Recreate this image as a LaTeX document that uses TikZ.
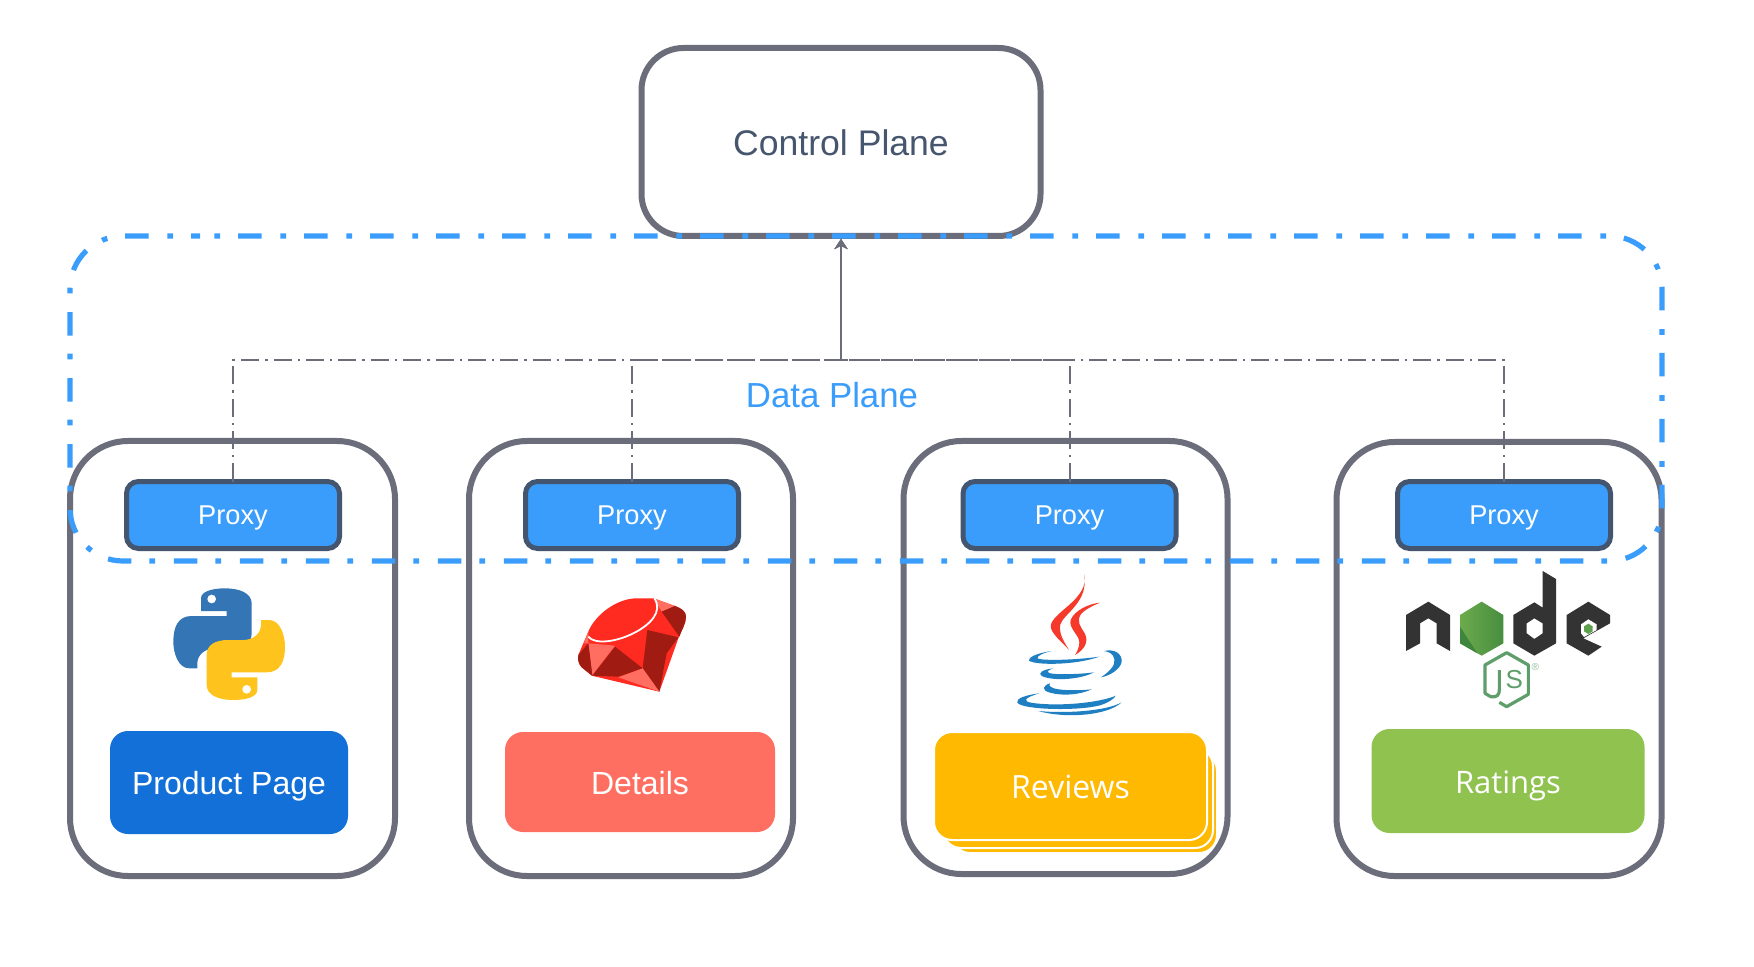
\documentclass[tikz,border=0pt]{standalone}
\usepackage{fontspec}
\setmainfont{Liberation Sans}
\newfontfamily\opensans{Open Sans}
\usetikzlibrary{arrows.meta}
\definecolor{boxgray}{HTML}{6B6D7B}
\definecolor{proxyblue}{HTML}{3B9DFB}
\definecolor{proxyedge}{HTML}{44566F}
\definecolor{titlecol}{HTML}{46566E}
\definecolor{pageblue}{HTML}{1270D8}
\definecolor{detailred}{HTML}{FF6F61}
\definecolor{reviewgold}{HTML}{FFB900}
\definecolor{ratinggreen}{HTML}{8FC24F}
\definecolor{pyblue}{HTML}{3375B5}
\definecolor{pyyellow}{HTML}{FFC31E}
\definecolor{rubybright}{HTML}{FF2A20}
\definecolor{rubydark}{HTML}{A01C12}
\definecolor{rubysalmon}{HTML}{FF6E60}
\definecolor{javared}{HTML}{F5392A}
\definecolor{javablue}{HTML}{1E7FC3}
\definecolor{nodedark}{HTML}{333333}
\definecolor{nodeleft}{HTML}{6CAB4C}
\definecolor{nodegreen}{HTML}{5FA04E}
\definecolor{nodedeep}{HTML}{3E863D}
\definecolor{jsgreen}{HTML}{5F9E6A}
\tikzset{
  panel/.style={draw=boxgray,line width=3pt,rounded corners=29pt,fill=white,inner sep=0pt,outer sep=0pt},
  ctrlbox/.style={draw=boxgray,line width=3pt,rounded corners=21pt,fill=white,inner sep=0pt,outer sep=0pt,
    text=titlecol,font=\fontsize{17.8pt}{20pt}\selectfont,text height=12.7pt,text depth=0pt,
    minimum width=199.5pt,minimum height=94pt},
  proxybox/.style={draw=proxyedge,line width=2.5pt,rounded corners=6pt,fill=proxyblue,text=white,
    inner sep=0pt,outer sep=0pt,minimum width=106.5pt,minimum height=33.5pt,
    font=\fontsize{13.6pt}{16pt}\selectfont,text height=9.7pt,text depth=0pt},
  service/.style={rounded corners=9pt,inner sep=0pt,outer sep=0pt,text=white,
    font=\fontsize{16pt}{18pt}\selectfont,text height=11.4pt,text depth=0pt},
  opensvc/.style={service,font=\opensans\fontsize{#1}{18pt}\selectfont,text height=11.1pt},
  stackcard/.style={rounded corners=9pt,fill=reviewgold,draw=white,line width=1pt},
  conn/.style={draw=boxgray,line width=1pt,dash pattern=on 9pt off 3pt on 1.2pt off 3pt,
    shorten >=1.5pt,-{Stealth[length=5pt,width=6.5pt]}},
  plane/.style={draw=proxyblue,line width=2.6pt,rounded corners=26.5pt,
    dash pattern=on 11.8pt off 9.4pt on 2.8pt off 9pt,dash phase=14pt},
}
\begin{document}
\begin{tikzpicture}[x=0.5pt,y=-0.5pt]
\useasboundingbox (0,0) rectangle (1754,967);
\fill[white] (0,0) rectangle (1754,967);

% Control plane and application panels
\node[ctrlbox] (cp) at (841,142) {\raisebox{-0.5pt}{Control Plane}};
\node[panel,minimum width=162.5pt,minimum height=217.5pt] (app1) at (232.5,658.5) {};
\node[panel,minimum width=162pt,minimum height=217.5pt] (app2) at (631,658.5) {};
\node[panel,minimum width=162pt,minimum height=216.5pt] (app3) at (1065.5,657.5) {};
\node[panel,minimum width=162.5pt,minimum height=217pt] (app4) at (1499,659) {};

% Proxies
\node[proxybox] (proxy1) at (233,515) {Proxy};
\node[proxybox] (proxy2) at (632,515) {Proxy};
\node[proxybox] (proxy3) at (1069.5,515) {Proxy};
\node[proxybox] (proxy4) at (1504,515) {Proxy};

% Services
\node[service,fill=pageblue,minimum width=119pt,minimum height=51.5pt] (svc1) at (229,782.5) {\raisebox{-0.5pt}{Product Page}};
\node[service,fill=detailred,minimum width=135pt,minimum height=50pt] (svc2) at (640,782) {\raisebox{-0.5pt}{Details}};
\path[stackcard] (952,753) rectangle (1217,853);
\path[stackcard] (943,748) rectangle (1213,848);
\node[opensvc=16pt,fill=reviewgold,draw=white,line width=1pt,minimum width=136.5pt,minimum height=54pt] (svc3) at (1070.5,786) {\raisebox{-0.5pt}{Reviews}};
\node[opensvc=15.5pt,fill=ratinggreen,minimum width=136.5pt,minimum height=52pt] (svc4) at (1508,781) {\raisebox{-0.5pt}{Ratings}};

% Connectors
\coordinate (bus) at (841,360);
\draw[conn] (proxy1.north) |- (bus) -- (cp.south);
\draw[conn] (proxy2.north) |- (bus) -- (cp.south);
\draw[conn] (proxy3.north) |- (bus) -- (cp.south);
\draw[conn] (proxy4.north) |- (bus) -- (cp.south);

% Data plane
\draw[plane] (200,236) -- (1662,236) -- (1662,561) -- (70,561) -- (70,236) -- (200,236);
\node[text=proxyblue,font=\fontsize{17.4pt}{20pt}\selectfont,text height=12.5pt,text depth=0pt,inner sep=0pt] (dp) at (832,395.5) {Data Plane};

% Python logo
\begin{scope}[shift={(150,570)},scale=1/3]
  \def\pysnake{(153,123) -- (153,85) .. controls (153,65) and (185,55) .. (225,55)
    .. controls (270,55) and (305,70) .. (305,100) -- (305,190)
    .. controls (305,220) and (280,235) .. (240,235) -- (195,235)
    .. controls (165,235) and (142,255) .. (142,280) -- (142,295) -- (118,295)
    .. controls (85,295) and (70,250) .. (70,215)
    .. controls (70,170) and (85,138) .. (125,138) -- (230,138) -- (230,123) -- cycle}
  \fill[pyblue] \pysnake;
  \fill[white] (185,87) circle (13);
  \begin{scope}[rotate around={180:(237.5,222.5)}]
    \fill[pyyellow] \pysnake;
    \fill[white] (185,87) circle (13);
  \end{scope}
\end{scope}

% Ruby logo
\begin{scope}[shift={(560,580)},scale=1/3]
  \fill[rubybright] (280,55) -- (345,78) .. controls (365,85) and (378,95) .. (378,110)
    .. controls (378,130) and (365,150) .. (355,175) -- (298,335) -- (95,287)
    -- (65,262) .. controls (55,250) and (53,240) .. (55,225) -- (85,155)
    .. controls (105,105) and (170,55) .. (230,55) -- cycle;
  \fill[rubysalmon] (282,55) -- (345,78) -- (305,95) -- cycle;
  \fill[rubydark] (305,95) -- (345,78) .. controls (365,85) and (378,95) .. (378,110)
    .. controls (378,130) and (365,150) .. (358,170) -- cycle;
  \fill[rubydark] (262,150) -- (355,172) -- (320,220) -- (298,335) -- (248,265) -- cycle;
  \fill[rubydark] (165,200) -- (248,265) -- (175,290) -- (97,287) -- cycle;
  \fill[rubysalmon] (85,190) -- (165,197) -- (97,285) -- cycle;
  \fill[rubysalmon] (175,292) -- (248,265) -- (298,335) -- cycle;
  \fill[rubydark] (85,190) -- (97,287) -- (65,262) .. controls (55,250) and (53,240) .. (55,225) -- cycle;
  \fill[rubysalmon] (85,155) -- (72,190) -- (85,190) -- cycle;
  \draw[white,line width=0.9pt] (85,170) .. controls (105,195) and (170,185) .. (220,160)
    .. controls (270,135) and (310,95) .. (283,55);
\end{scope}

% Java logo
\begin{scope}[shift={(1000,565)},scale=1/3]
  \fill[javared] (252,28) .. controls (262,60) and (240,92) .. (205,122)
    .. controls (170,152) and (148,170) .. (153,190)
    .. controls (160,212) and (190,235) .. (207,255)
    .. controls (192,230) and (175,205) .. (181,178)
    .. controls (192,145) and (268,110) .. (252,28) -- cycle;
  \fill[javared] (300,113) .. controls (265,116) and (222,138) .. (212,165)
    .. controls (205,190) and (238,210) .. (238,232)
    .. controls (238,245) and (232,260) .. (225,270)
    .. controls (252,255) and (268,230) .. (254,205)
    .. controls (242,185) and (228,170) .. (243,147)
    .. controls (253,135) and (278,122) .. (300,113) -- cycle;
  \fill[javablue] (155,258) .. controls (110,264) and (83,278) .. (87,287)
    .. controls (110,302) and (230,300) .. (298,275)
    .. controls (230,285) and (125,288) .. (112,280)
    .. controls (110,272) and (135,262) .. (155,258) -- cycle;
  \fill[javablue] (312,258) .. controls (345,250) and (367,268) .. (365,290)
    .. controls (362,312) and (330,332) .. (303,337)
    .. controls (328,320) and (348,300) .. (343,282)
    .. controls (340,265) and (325,260) .. (312,258) -- cycle;
  \fill[javablue] (160,310) .. controls (125,314) and (113,325) .. (125,333)
    .. controls (160,349) and (240,344) .. (282,322)
    .. controls (240,328) and (165,330) .. (147,324)
    .. controls (137,319) and (150,313) .. (160,310) -- cycle;
  \fill[javablue] (150,355) .. controls (128,362) and (123,376) .. (150,383)
    .. controls (190,394) and (240,389) .. (275,373)
    .. controls (230,378) and (170,376) .. (157,368)
    .. controls (147,363) and (146,360) .. (150,355) -- cycle;
  \fill[javablue] (118,385) .. controls (75,390) and (46,402) .. (52,413)
    .. controls (65,434) and (230,439) .. (300,421)
    .. controls (325,413) and (342,402) .. (347,392)
    .. controls (320,405) and (240,420) .. (150,418)
    .. controls (105,416) and (75,413) .. (78,404)
    .. controls (80,398) and (100,390) .. (118,385) -- cycle;
  \fill[javablue] (115,438) .. controls (190,460) and (320,454) .. (365,412)
    .. controls (320,438) and (200,446) .. (115,438) -- cycle;
\end{scope}

% Node.js logo
\begin{scope}[shift={(1400,565)},scale=1/3]
  \fill[nodedark] (18,150) -- (85,110) -- (150,150) -- (150,258) -- (110,235) -- (110,175)
    -- (85,160) -- (60,175) -- (60,235) -- (18,258) -- cycle;
  \shade[left color=nodeleft,right color=nodedeep!80!nodeleft]
    (245,110) -- (310,150) -- (310,235) -- (245,272) -- (180,235) -- (180,150) -- cycle;
  \fill[nodedeep] (180,185) -- (232,265) -- (180,235) -- cycle;
  \fill[nodedark,even odd rule] (428,18) -- (468,42) -- (468,235) -- (403,272) -- (340,235)
    -- (340,150) -- (403,112) -- (428,128) -- cycle
    (403,160) -- (428,175) -- (428,205) -- (403,222) -- (380,205) -- (380,175) -- cycle;
  \fill[nodedark] (565,110) -- (630,150) -- (630,175) -- (550,220) -- (605,245) -- (565,272)
    -- (500,235) -- (500,150) -- cycle;
  \fill[white] (565,163) -- (590,178) -- (590,195) -- (552,216) -- (543,205) -- (543,178) -- cycle;
  \fill[nodegreen] (565,176) -- (578,184) -- (578,199) -- (565,207) -- (552,199) -- (552,184) -- cycle;
  \draw[jsgreen,line width=1.6pt,line join=round]
    (298,412) -- (320,425) -- (385,388) -- (385,300) -- (320,263) -- (255,300) -- (255,385)
    -- (272,395) .. controls (290,398) and (298,390) .. (298,375) -- (298,315);
  \node[text=jsgreen,font=\fontsize{13pt}{15pt}\selectfont,inner sep=0pt] (jsS) at (343,345) {S};
  \node[text=jsgreen!70,font=\fontsize{5pt}{6pt}\selectfont,inner sep=0pt] (jsR) at (406,307) {®};
\end{scope}
\end{tikzpicture}
\end{document}
